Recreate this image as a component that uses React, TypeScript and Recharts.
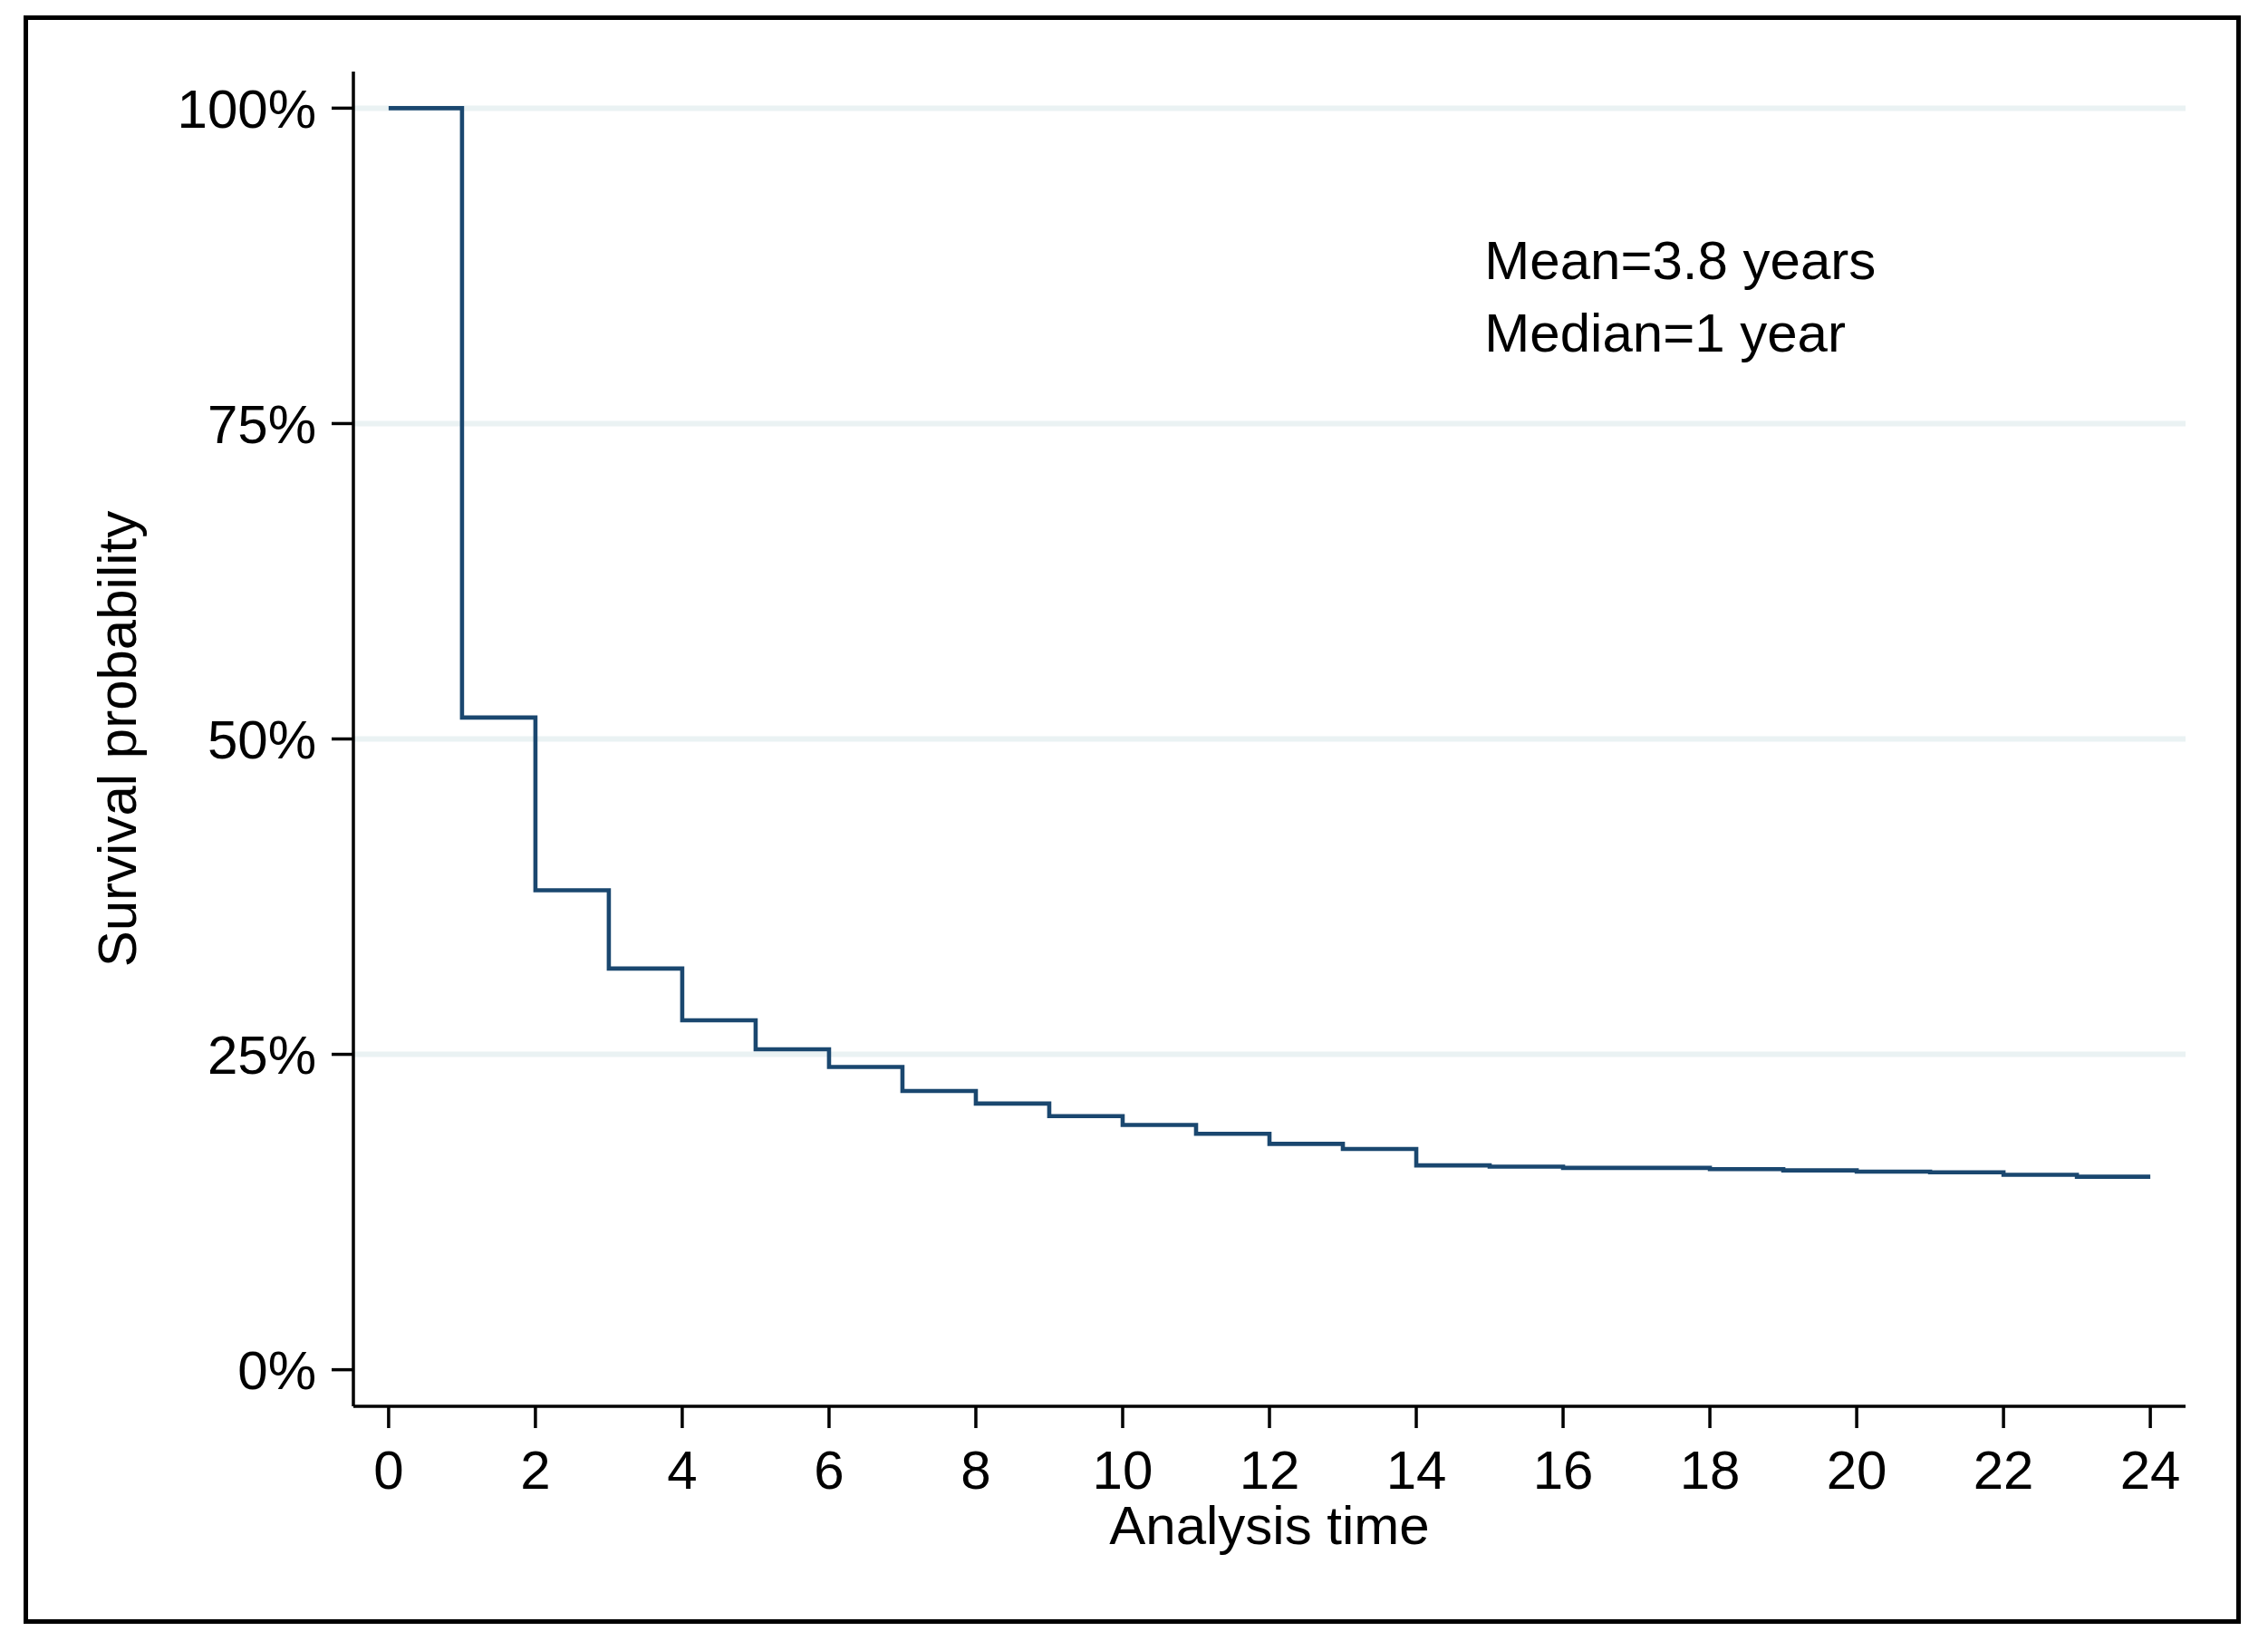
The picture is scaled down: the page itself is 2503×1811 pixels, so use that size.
import React from 'react';
import { LineChart, Line, XAxis, YAxis, ReferenceLine, ReferenceDot, Label } from 'recharts';

// Kaplan-Meier survival estimate
const times = [0, 1, 2, 3, 4, 5, 6, 7, 8, 9, 10, 11, 12, 13, 14, 15, 16, 17, 18, 19, 20, 21, 22, 23, 24];
const survival = [
  100, 51.7, 38.0, 31.8, 27.7, 25.4, 24.0, 22.1, 21.1, 20.1, 19.4, 18.7, 17.9,
  17.5, 16.2, 16.1, 16.0, 16.0, 15.9, 15.8, 15.7, 15.65, 15.45, 15.3, 15.3,
];

const xTicks = [0, 2, 4, 6, 8, 10, 12, 14, 16, 18, 20, 22, 24];
const yTicks = [0, 25, 50, 75, 100];
const gridLevels = [25, 50, 75, 100];

const notes = [
  { text: 'Mean=3.8 years', x: 14.93, y: 88.0 },
  { text: 'Median=1 year', x: 14.93, y: 82.2 },
];

const data = times.map((t, i) => ({ time: t, surv: survival[i] }));

const FONT = '"Liberation Sans", Arial, Helvetica, sans-serif';
const NAVY = '#1A476F';
const GRID = '#EAF2F3';

const YTitle = (props: any) => {
  const vb = props.viewBox || { y: 79, height: 1473 };
  const cx = 150;
  const cy = vb.y + vb.height / 2;
  return (
    <text
      x={cx}
      y={cy}
      transform={`rotate(-90 ${cx} ${cy})`}
      textAnchor="middle"
      fontSize={60}
      fontFamily={FONT}
      fill="#000"
    >
      Survival probability
    </text>
  );
};

export default function App() {
  return (
    <div style={{ position: 'absolute', left: 0, top: 0, width: 2503, height: 1811, background: '#fff', fontFamily: FONT }}>
      <div
        style={{
          position: 'absolute',
          left: 26,
          top: 17,
          width: 2447,
          height: 1775,
          border: '5px solid #000',
          boxSizing: 'border-box',
        }}
      />
      <LineChart
        width={2503}
        height={1811}
        data={data}
        margin={{ top: 79, right: 91, bottom: 159, left: 0 }}
        style={{ position: 'absolute', left: 0, top: 0 }}
      >
        <XAxis
          dataKey="time"
          type="number"
          domain={[-0.48, 24.48]}
          ticks={xTicks}
          interval={0}
          height={100}
          tickSize={24}
          tickMargin={24}
          stroke="#000"
          strokeWidth={3.5}
          tick={{ fontSize: 60, fill: '#000', fontFamily: FONT }}
          label={{ value: 'Analysis time', position: 'bottom', offset: 9, fontSize: 60, fill: '#000', fontFamily: FONT }}
        />
        <YAxis
          type="number"
          domain={[-2.9, 102.9]}
          ticks={yTicks}
          interval={0}
          width={390}
          tickSize={24}
          tickMargin={17}
          stroke="#000"
          strokeWidth={3.5}
          tickFormatter={(v: number) => `${v}%`}
          tick={{ fontSize: 60, fill: '#000', fontFamily: FONT }}
        >
          <Label content={YTitle} />
        </YAxis>
        {gridLevels.map((g) => (
          <ReferenceLine key={g} y={g} stroke={GRID} strokeWidth={6} />
        ))}
        <Line
          type="stepAfter"
          dataKey="surv"
          stroke={NAVY}
          strokeWidth={4.6}
          dot={false}
          activeDot={false}
          isAnimationActive={false}
        />
        {notes.map((n) => (
          <ReferenceDot
            key={n.text}
            x={n.x}
            y={n.y}
            r={0}
            fill="none"
            stroke="none"
            label={{ value: n.text, position: 'right', offset: 0, fontSize: 60, fill: '#000', fontFamily: FONT }}
          />
        ))}
      </LineChart>
    </div>
  );
}
